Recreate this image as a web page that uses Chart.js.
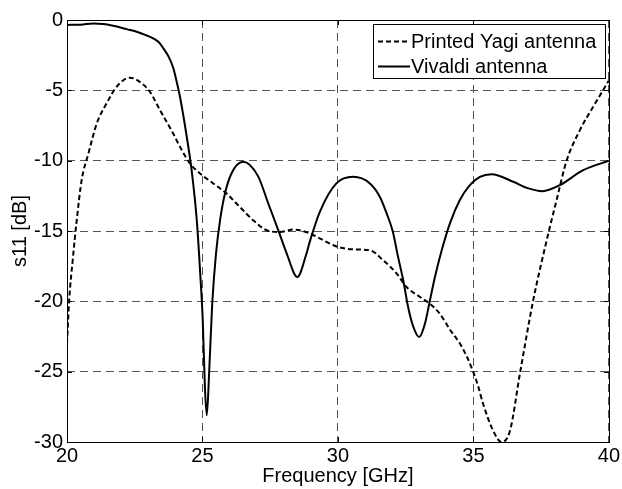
<!DOCTYPE html>
<html>
<head>
<meta charset="utf-8">
<script src="https://cdn.jsdelivr.net/npm/chart.js@4/dist/chart.umd.min.js"></script>
<style>
  html, body { margin: 0; padding: 0; background: #fff; }
  #wrap { width: 622px; height: 489px; }
</style>
</head>
<body>
<div id="wrap"><canvas id="c" width="622" height="489"></canvas></div>
<script>
const seriesNames = ['Printed Yagi antenna', 'Vivaldi antenna'];

const yagiFreq = [20, 20.08, 20.21, 20.36, 20.54, 20.79, 21.1, 21.46, 21.83, 22.32, 22.76, 23.06, 23.43, 23.92, 24.17, 24.54, 24.91, 25.4, 25.89, 26.38, 26.87, 27.37, 27.86, 28.35, 28.97, 29.34, 29.95, 30.5, 31.18, 31.67, 32.17, 32.53, 33.03, 33.39, 33.76, 34.13, 34.5, 34.75, 34.97, 35.17, 35.36, 35.73, 36.04, 36.35, 36.72, 37.2, 37.7, 38.07, 38.44, 38.93, 39.42, 40];
const yagiS11 = [-23.0, -19.93, -17.08, -14.23, -11.39, -9.49, -7.35, -5.93, -4.75, -4.1, -4.5, -5.1, -6.4, -8.07, -9.02, -10.2, -10.91, -11.62, -12.34, -13.29, -14.23, -14.95, -15.07, -14.9, -15.18, -15.54, -16.1, -16.3, -16.37, -17.08, -18.03, -18.98, -19.69, -20.17, -20.88, -22.0, -23.0, -23.9, -24.9, -26.0, -27.3, -29.2, -30, -29.2, -25.1, -20, -15.7, -12.8, -10, -7.83, -6.17, -4.3];

const vivaldiFreq = [20, 20.5, 20.97, 21.34, 21.8, 22.2, 22.6, 22.94, 23.18, 23.4, 23.55, 23.75, 23.92, 24.05, 24.17, 24.42, 24.6, 24.79, 24.91, 25.01, 25.09, 25.16, 25.25, 25.36, 25.5, 25.65, 25.83, 26.07, 26.5, 27.05, 27.43, 27.8, 28.11, 28.5, 28.84, 28.97, 29.34, 29.95, 30.56, 31.18, 31.55, 31.8, 32.02, 32.22, 32.41, 32.59, 32.78, 33.0, 33.21, 33.37, 33.58, 33.83, 34.13, 34.5, 34.87, 35.24, 35.67, 36.47, 37.0, 37.55, 38.19, 39.05, 40];
const vivaldiS11 = [-0.35, -0.33, -0.24, -0.28, -0.45, -0.65, -0.85, -1.1, -1.3, -1.6, -2.0, -2.6, -3.4, -4.4, -5.46, -8.3, -10.68, -14.23, -17.8, -21.35, -26.1, -28.1, -24.9, -20.17, -16.6, -14.23, -12.34, -10.91, -10.08, -11.1, -13.05, -14.95, -16.6, -18.27, -16.6, -15.7, -13.6, -11.6, -11.15, -11.62, -12.58, -13.76, -15.0, -16.85, -18.5, -20.4, -21.8, -22.54, -21.6, -20.17, -18.27, -16.37, -14.47, -12.8, -11.74, -11.15, -10.96, -11.5, -11.95, -12.17, -11.74, -10.68, -10.0];

const xTicks = [20, 25, 30, 35, 40];
const yTicks = [0, -5, -10, -15, -20, -25, -30];
const xTitle = 'Frequency [GHz]';
const yTitle = 's11 [dB]';

const FONT = "'Liberation Sans', Arial, Helvetica, sans-serif";

function pts(xs, ys) { return xs.map((x, i) => ({ x: x, y: ys[i] })); }

const boxPlugin = {
  id: 'boxPlugin',
  afterDraw(chart) {
    const ctx = chart.ctx;
    const a = chart.chartArea;
    const xs = chart.scales.x, ys = chart.scales.y;
    ctx.save();
    ctx.strokeStyle = '#000';
    ctx.lineWidth = 1;
    ctx.setLineDash([]);
    ctx.beginPath();
    xTicks.forEach(v => {
      const px = Math.round(xs.getPixelForValue(v)) + 0.5;
      ctx.moveTo(px, a.bottom); ctx.lineTo(px, a.bottom - 5);
      ctx.moveTo(px, a.top); ctx.lineTo(px, a.top + 5);
    });
    yTicks.forEach(v => {
      const py = Math.round(ys.getPixelForValue(v)) + 0.5;
      ctx.moveTo(a.left, py); ctx.lineTo(a.left + 5, py);
      ctx.moveTo(a.right, py); ctx.lineTo(a.right - 5, py);
    });
    ctx.stroke();
    ctx.strokeRect(Math.round(a.left) + 0.5, Math.round(a.top) + 0.5, Math.round(a.right - a.left), Math.round(a.bottom - a.top));

    // legend box
    const lx = 373, ly = 24, lw = 232, lh = 54;
    ctx.fillStyle = '#fff';
    ctx.fillRect(lx, ly, lw, lh);
    ctx.strokeRect(lx + 0.5, ly + 0.5, lw, lh);
    ctx.font = '20px ' + FONT;
    ctx.textBaseline = 'middle';
    ctx.textAlign = 'left';
    ctx.fillStyle = '#000';
    chart.data.datasets.forEach((ds, i) => {
      const cy = ly + 17 + i * 25;
      ctx.save();
      ctx.lineWidth = ds.borderWidth;
      ctx.setLineDash(ds.borderDash || []);
      ctx.beginPath();
      ctx.moveTo(lx + 5, cy + 0.5);
      ctx.lineTo(lx + 37, cy + 0.5);
      ctx.stroke();
      ctx.restore();
      ctx.fillText(ds.label, lx + 38, cy + 1);
    });
    ctx.restore();
  }
};

new Chart(document.getElementById('c'), {
  type: 'line',
  data: {
    datasets: [
      {
        label: seriesNames[0],
        data: pts(yagiFreq, yagiS11),
        borderColor: '#000',
        borderWidth: 2,
        borderDash: [5, 3],
        pointRadius: 0,
        fill: false,
        cubicInterpolationMode: 'monotone'
      },
      {
        label: seriesNames[1],
        data: pts(vivaldiFreq, vivaldiS11),
        borderColor: '#000',
        borderWidth: 2,
        pointRadius: 0,
        fill: false,
        cubicInterpolationMode: 'monotone'
      }
    ]
  },
  options: {
    responsive: false,
    animation: false,
    layout: { padding: { left: 0, top: 20, right: 13, bottom: 0 } },
    plugins: { legend: { display: false }, tooltip: { enabled: false } },
    scales: {
      x: {
        type: 'linear',
        min: 20, max: 40,
        afterFit(s) { s.height = 47; },
        afterBuildTicks(s) { s.ticks = xTicks.map(v => ({ value: v })); },
        ticks: { color: '#000', font: { family: FONT, size: 20 }, padding: 2, maxRotation: 0, autoSkip: false },
        grid: { color: '#555', lineWidth: 1, drawTicks: false, tickLength: 0 },
        border: { display: false, dash: [8, 5] },
        title: { display: true, text: xTitle, color: '#000', font: { family: FONT, size: 20 }, padding: { top: 0, bottom: 1 } }
      },
      y: {
        type: 'linear',
        min: -30, max: 0,
        afterFit(s) { s.width = 67; },
        afterBuildTicks(s) { s.ticks = yTicks.map(v => ({ value: v })); },
        ticks: { color: '#000', font: { family: FONT, size: 20 }, padding: 4, autoSkip: false },
        grid: { color: '#555', lineWidth: 1, drawTicks: false, tickLength: 0 },
        border: { display: false, dash: [8, 5] },
        title: { display: true, text: yTitle, color: '#000', font: { family: FONT, size: 20 }, padding: { top: 8, bottom: 0 } }
      }
    }
  },
  plugins: [boxPlugin]
});
</script>
</body>
</html>
